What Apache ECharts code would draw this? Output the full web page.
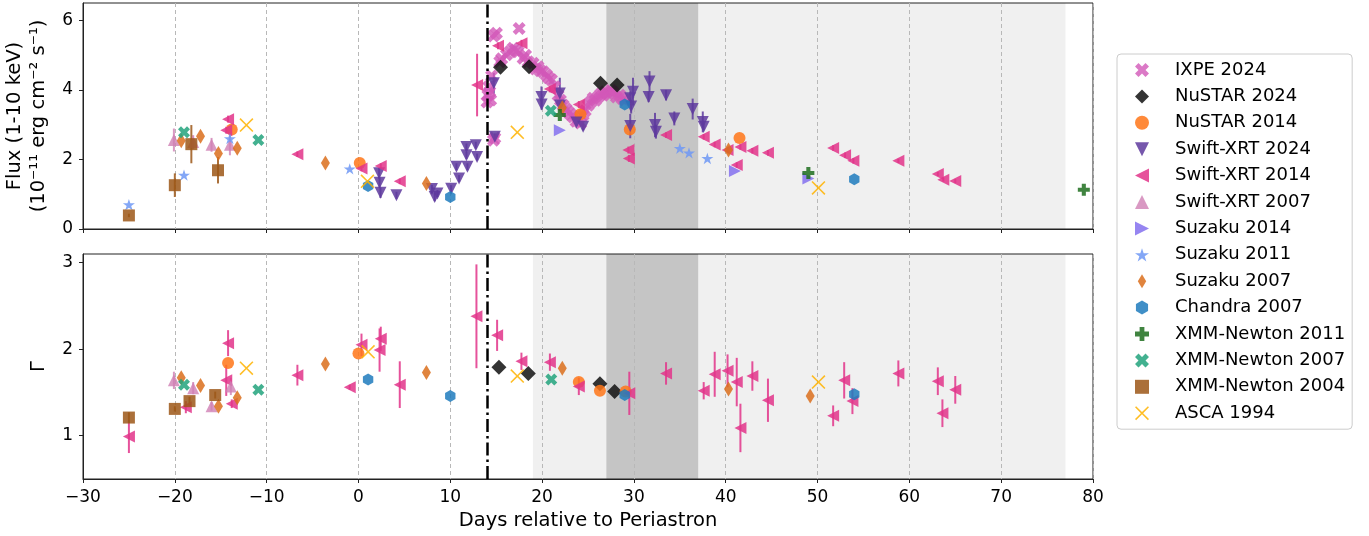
<!DOCTYPE html>
<html>
<head>
<meta charset="utf-8">
<script src="https://cdn.jsdelivr.net/npm/echarts@6/dist/echarts.min.js"></script>
<style>
  html, body { margin: 0; padding: 0; background: #fff; }
  #chart { width: 1369px; height: 536px; }
</style>
</head>
<body>
<div id="chart"></div>
<script>
// points are [day, value, error]; error left out where no bar is visible
var ixpeFlux = [[14.0,3.65],[14.1,3.85],[14.2,4.09],[14.3,3.95],[14.4,3.71],[14.5,4.4],[14.7,2.55],[14.85,2.62],
  [14.7,5.55],[15.03,5.63],[15.39,4.81],[15.6,4.9],[16.12,5.01],[16.5,5.1],[16.84,5.2],[17.1,5.15],[17.39,5.1],
  [17.5,5.77],[17.93,4.91],[18.2,5.0],[18.48,4.81],[19.02,4.77],[19.3,4.6],[19.56,4.67],[19.8,4.55],[20.11,4.52],
  [20.48,4.43],[20.7,4.35],[21.02,4.29],[21.38,4.09],[21.74,3.85],[22.0,3.7],[22.29,3.56],[22.6,3.45],[22.83,3.37],
  [23.1,3.3],[23.38,3.23],[23.7,3.1],[23.92,3.18],[24.2,3.05],[24.47,3.28],[24.7,3.4],[25.01,3.56],[25.3,3.65],
  [25.56,3.76],[25.8,3.7],[26.1,3.8],[26.4,3.88],[26.64,3.85],[26.9,3.95],[27.19,3.9],[27.5,3.98],[27.73,3.93],
  [28.1,3.8],[28.46,3.85],[28.7,3.75],[29.0,3.71]];

var nustar24Flux = [[15.47,4.65],[18.58,4.67],[26.36,4.19],[28.17,4.14]];
var nustar24Gamma = [[15.3,1.79],[18.5,1.72],[26.3,1.6],[27.9,1.51]];

var nustar14Flux = [[-13.8,2.86],[0.14,1.9],[24.18,3.3],[29.55,2.86],[41.5,2.62]];
var nustar14Gamma = [[-14.2,1.84],[0.0,1.95],[24.0,1.62],[26.3,1.52],[29.1,1.51]];

var swift24Flux = [[2.25,1.6,0.15],[2.3,1.33,0.15],[2.4,1.04,0.15],[4.14,0.97,0.1],[8.0,1.15,0.12],[8.3,0.92,0.12],
  [8.6,1.02,0.1],[10.1,1.16,0.1],[10.67,1.79,0.1],[10.96,1.45,0.1],[11.76,2.36,0.1],[11.76,2.12,0.1],[11.87,1.79,0.1],
  [12.78,2.41,0.1],[12.92,2.07,0.1],[14.74,4.19,0.3],[14.85,2.65,0.1],[19.93,3.8,0.3],[19.95,3.58,0.15],
  [21.93,3.9,0.45],[21.95,3.55,0.1],[23.74,3.06,0.1],[24.47,2.94,0.1],[29.9,3.95,0.4],[29.6,3.76,0.2],
  [29.7,3.52,0.2],[29.6,2.96,0.35],[31.7,4.24,0.3],[31.6,3.8,0.15],[33.5,3.85,0.15],[32.3,2.99,0.35],
  [32.4,2.8,0.2],[34.4,3.18,0.2],[36.4,3.45,0.3],[37.5,3.08,0.3],[37.6,2.94,0.1]];

var swift14Flux = [[-14.2,3.16,0.1],[-14.4,2.84,0.1],[-6.65,2.15,0.08],[0.33,1.74,0.08],[2.43,1.81,0.08],
  [4.5,1.37,0.08],[12.92,4.14,0.9],[15.2,5.27,0.1],[17.76,5.34,0.1],[20.84,4.03,0.1],[24.0,3.58,0.1],
  [29.4,2.27,0.1],[29.45,2.03,0.1],[33.5,2.7,0.08],[37.6,2.65,0.08],[38.8,2.43,0.08],[40.2,2.27,0.08],
  [41.6,2.36,0.08],[41.2,1.84,0.08],[42.9,2.25,0.08],[44.6,2.19,0.08],[51.7,2.33,0.08],[53.0,2.12,0.08],
  [53.9,1.96,0.08],[58.8,1.96,0.06],[63.1,1.58,0.06],[63.7,1.42,0.06],[65.0,1.38,0.06]];
var swift14Gamma = [[-25.0,0.99,0.19],[-18.8,1.33,0.07],[-14.2,2.07,0.15],[-14.4,1.64,0.18],[-13.8,1.37,0.05],
  [-6.65,1.7,0.12],[-0.95,1.56,0.03],[0.33,2.05,0.13],[2.43,2.12,0.14],[2.3,1.99,0.25],[4.5,1.59,0.27],
  [12.85,2.38,0.6],[15.1,2.16,0.18],[17.75,1.86,0.1],[20.85,1.85,0.1],[24.0,1.57,0.1],[29.5,1.49,0.25],
  [33.5,1.72,0.13],[37.6,1.52,0.1],[38.8,1.71,0.26],[40.2,1.75,0.19],[41.2,1.62,0.28],[41.6,1.09,0.28],
  [42.9,1.69,0.17],[44.6,1.41,0.25],[51.7,1.23,0.12],[52.9,1.64,0.21],[53.8,1.4,0.15],[58.8,1.72,0.15],
  [63.1,1.63,0.16],[63.6,1.26,0.16],[65.0,1.53,0.16]];

var swift07Flux = [[-20.1,2.56,0.33],[-18.0,2.5,0.2],[-16.0,2.42,0.2],[-14.0,2.42,0.3]];
var swift07Gamma = [[-20.1,1.64,0.1],[-18.0,1.55,0.07],[-16.0,1.34,0.05],[-13.9,1.57,0.1]];

var suzaku14Flux = [[21.93,2.84],[41.0,1.67],[49.0,1.45]];

var suzaku11Flux = [[-25.0,0.7],[-19.0,1.55],[-14.0,2.6],[-0.95,1.73],[35.0,2.32],[36.0,2.19],[38.0,2.03]];

var suzaku07Flux = [[-19.3,2.54],[-17.2,2.67],[-15.25,2.17],[-13.2,2.32],[-3.6,1.9],[7.4,1.31],[22.2,3.49],[40.3,2.27,0.1]];
var suzaku07Gamma = [[-19.3,1.67],[-17.2,1.58],[-15.25,1.34],[-13.2,1.44],[-3.6,1.83],[7.4,1.73],[22.2,1.78],[40.3,1.54],[49.2,1.46]];

var chandraFlux = [[1.05,1.24],[10.0,0.92],[29.0,3.58],[54.0,1.43]];
var chandraGamma = [[1.05,1.65],[10.0,1.46],[29.0,1.47],[54.0,1.48]];

var xmm11Flux = [[21.93,3.28],[49.0,1.61],[79.0,1.13]];

var xmm07Flux = [[-19.0,2.78],[-10.9,2.56],[20.95,3.4]];
var xmm07Gamma = [[-19.0,1.59],[-10.9,1.53],[21.0,1.65]];

var xmm04Flux = [[-25.0,0.39,0.05],[-20.0,1.26,0.34],[-18.2,2.44,0.55],[-15.3,1.69,0.38]];
var xmm04Gamma = [[-25.0,1.21,0.06],[-20.0,1.31,0.03],[-18.4,1.4,0.05],[-15.6,1.47,0.04]];

var ascaFlux = [[-12.2,2.99],[0.98,1.37],[17.3,2.78],[50.1,1.18]];
var ascaGamma = [[-12.2,1.78],[1.05,1.97],[17.3,1.69],[50.1,1.62]];

var periastronDay = 14;
var lightSpan = [19, 77];
var darkSpan = [27, 37];

var fluxTicks = [0, 2, 4, 6];
var gammaTicks = [1, 2, 3];

var FONT = "'DejaVu Sans', sans-serif";

function starPath() {
  var s = 'path://';
  for (var i = 0; i < 10; i++) {
    var r = i % 2 ? 3.82 : 10;
    var a = -Math.PI / 2 + i * Math.PI / 5;
    s += (i ? 'L' : 'M') + (10 + r * Math.cos(a)).toFixed(2) + ',' + (10 + r * Math.sin(a)).toFixed(2);
  }
  return s + 'Z';
}

var SYM = {
  bigX: 'path://M0,2.5L2.5,0L5,2.5L7.5,0L10,2.5L7.5,5L10,7.5L7.5,10L5,7.5L2.5,10L0,7.5L2.5,5Z',
  thinX: 'path://M0,0.8L0.8,0L5,4.2L9.2,0L10,0.8L5.8,5L10,9.2L9.2,10L5,5.8L0.8,10L0,9.2L4.2,5Z',
  plus: 'path://M3.3,0L6.7,0L6.7,3.3L10,3.3L10,6.7L6.7,6.7L6.7,10L3.3,10L3.3,6.7L0,6.7L0,3.3L3.3,3.3Z',
  down: 'path://M0,0L10,0L5,10Z',
  left: 'path://M0,5L10,0L10,10Z',
  right: 'path://M0,0L10,5L0,10Z',
  up: 'path://M5,0L10,10L0,10Z',
  diamond: 'path://M5,0L10,5L5,10L0,5Z',
  thinDiamond: 'path://M3,0L6,5L3,10L0,5Z',
  hexagon: 'path://M5,0L9.33,2.5L9.33,7.5L5,10L0.67,7.5L0.67,2.5Z',
  star: starPath()
};

var instruments = [
  { name: 'IXPE 2024', color: '#d258b8', symbol: SYM.bigX, size: 13, op: 0.8, flux: ixpeFlux, gamma: [] },
  { name: 'NuSTAR 2024', color: '#111111', symbol: SYM.diamond, size: 15, op: 0.85, flux: nustar24Flux, gamma: nustar24Gamma },
  { name: 'NuSTAR 2014', color: '#ff7518', symbol: 'circle', size: 12, op: 0.85, flux: nustar14Flux, gamma: nustar14Gamma },
  { name: 'Swift-XRT 2024', color: '#5e3a9e', symbol: SYM.down, size: 12, op: 0.85, flux: swift24Flux, gamma: [] },
  { name: 'Swift-XRT 2014', color: '#e2348a', symbol: SYM.left, size: 12, op: 0.85, flux: swift14Flux, gamma: swift14Gamma },
  { name: 'Swift-XRT 2007', color: '#cf7fb4', symbol: SYM.up, size: 12, op: 0.8, flux: swift07Flux, gamma: swift07Gamma },
  { name: 'Suzaku 2014', color: '#8470ee', symbol: SYM.right, size: 12, op: 0.85, flux: suzaku14Flux, gamma: [] },
  { name: 'Suzaku 2011', color: '#6f98f5', symbol: SYM.star, size: 12, op: 0.85, flux: suzaku11Flux, gamma: [] },
  { name: 'Suzaku 2007', color: '#da6e1c', symbol: SYM.thinDiamond, size: 15, op: 0.85, flux: suzaku07Flux, gamma: suzaku07Gamma },
  { name: 'Chandra 2007', color: '#1f7bbd', symbol: SYM.hexagon, size: 12, op: 0.85, flux: chandraFlux, gamma: chandraGamma },
  { name: 'XMM-Newton 2011', color: '#1e6e1e', symbol: SYM.plus, size: 12, op: 0.85, flux: xmm11Flux, gamma: [] },
  { name: 'XMM-Newton 2007', color: '#22a37c', symbol: SYM.bigX, size: 12, op: 0.85, flux: xmm07Flux, gamma: xmm07Gamma },
  { name: 'XMM-Newton 2004', color: '#9c5718', symbol: 'rect', size: 12, op: 0.85, flux: xmm04Flux, gamma: xmm04Gamma },
  { name: 'ASCA 1994', color: '#ffb300', symbol: SYM.thinX, size: 14, op: 0.85, flux: ascaFlux, gamma: ascaGamma }
];

function minusFmt(v) { return v < 0 ? '\u2212' + Math.abs(v) : String(v); }

var series = [];

// shaded orbital phases and periastron line, one set per panel
[0, 1].forEach(function (g) {
  series.push({
    type: 'custom',
    xAxisIndex: g, yAxisIndex: g,
    z: -1,
    silent: true,
    data: [lightSpan, darkSpan],
    renderItem: function (params, api) {
      var cs = params.coordSys;
      var a = api.coord([api.value(0), g === 0 ? 0 : 1]);
      var b = api.coord([api.value(1), g === 0 ? 0 : 1]);
      return {
        type: 'rect',
        shape: { x: a[0], y: cs.y, width: b[0] - a[0], height: cs.height },
        style: { fill: params.dataIndex === 0 ? '#f0f0f0' : '#c5c5c5' }
      };
    },
    markLine: {
      silent: true,
      symbol: ['none', 'none'],
      label: { show: false },
      lineStyle: { color: '#000', width: 2.5, type: [13, 4, 2.5, 4], opacity: 1 },
      data: [{ xAxis: periastronDay }]
    }
  });
});

function errSeries(inst, data, g) {
  var withErr = data.filter(function (d) { return d[2]; });
  return {
    type: 'custom',
    xAxisIndex: g, yAxisIndex: g,
    silent: true,
    z: 2,
    data: withErr,
    renderItem: function (params, api) {
      var x = api.value(0), y = api.value(1), e = api.value(2);
      var a = api.coord([x, y - e]);
      var b = api.coord([x, y + e]);
      return {
        type: 'line',
        shape: { x1: a[0], y1: a[1], x2: b[0], y2: b[1] },
        style: { stroke: inst.color, lineWidth: 2, opacity: inst.op }
      };
    }
  };
}

instruments.forEach(function (inst) {
  [[inst.flux, 0], [inst.gamma, 1]].forEach(function (pair) {
    var data = pair[0], g = pair[1];
    if (!data.length) return;
    series.push(errSeries(inst, data, g));
    series.push({
      type: 'scatter',
      name: inst.name,
      xAxisIndex: g, yAxisIndex: g,
      symbol: inst.symbol,
      symbolSize: inst.size,
      symbolKeepAspect: true,
      itemStyle: { color: inst.color, opacity: inst.op },
      z: 3,
      data: data.map(function (d) { return [d[0], d[1]]; })
    });
  });
});

function xAxis(g) {
  return {
    type: 'value', gridIndex: g,
    min: -30, max: 80, interval: 10,
    axisLine: { show: true, onZero: false, lineStyle: { color: '#222', width: 1 } },
    axisTick: { show: true, length: 4, lineStyle: { color: '#222' } },
    axisLabel: { show: g === 1, margin: 10, fontSize: 17, color: '#000', fontFamily: FONT, formatter: minusFmt },
    splitLine: { show: true, lineStyle: { color: '#b8b8b8', type: [4, 3], width: 1 } },
    name: g === 1 ? 'Days relative to Periastron' : '',
    nameLocation: 'middle', nameGap: 32,
    nameTextStyle: { fontSize: 19.5, color: '#000', fontFamily: FONT }
  };
}

function yAxis(g) {
  var ticks = g === 0 ? fluxTicks : gammaTicks;
  return {
    type: 'value', gridIndex: g,
    min: g === 0 ? 0 : 0.5,
    max: g === 0 ? 6.5 : 3.1,
    axisLine: { show: true, onZero: false, lineStyle: { color: '#222', width: 1 } },
    axisTick: { show: true, length: 4, customValues: ticks, lineStyle: { color: '#222' } },
    axisLabel: { show: true, margin: 10, fontSize: 17, color: '#000', fontFamily: FONT, customValues: ticks, formatter: minusFmt },
    splitLine: { show: false },
    name: g === 0 ? 'Flux (1-10 keV)\n(10\u207B\u00B9\u00B9 erg cm\u207B\u00B2 s\u207B\u00B9)' : '\u0393',
    nameLocation: 'middle', nameRotate: 90, nameGap: 28,
    nameTextStyle: { fontSize: 19.5, lineHeight: 24, color: '#000', fontFamily: FONT }
  };
}

var option = {
  animation: false,
  backgroundColor: '#fff',
  textStyle: { fontFamily: FONT },
  grid: [
    { left: 83, top: 3, width: 1010, height: 226, show: true, borderColor: '#222', borderWidth: 1, backgroundColor: 'transparent', outerBoundsMode: 'none', containLabel: false },
    { left: 83, top: 254, width: 1010, height: 225, show: true, borderColor: '#222', borderWidth: 1, backgroundColor: 'transparent', outerBoundsMode: 'none', containLabel: false }
  ],
  xAxis: [xAxis(0), xAxis(1)],
  yAxis: [yAxis(0), yAxis(1)],
  legend: {
    orient: 'vertical',
    left: 1117, top: 54,
    padding: [7, 7, 7, 18],
    itemWidth: 14, itemHeight: 14, itemGap: 8.4,
    backgroundColor: '#fff',
    borderColor: '#cccccc', borderWidth: 1, borderRadius: 4,
    selectedMode: false,
    textStyle: { fontSize: 18, color: '#000', fontFamily: FONT, padding: [0, 0, 0, 21] },
    data: instruments.map(function (i) { return i.name; })
  },
  series: series
};

var chart = echarts.init(document.getElementById('chart'));
chart.setOption(option);
</script>
</body>
</html>
